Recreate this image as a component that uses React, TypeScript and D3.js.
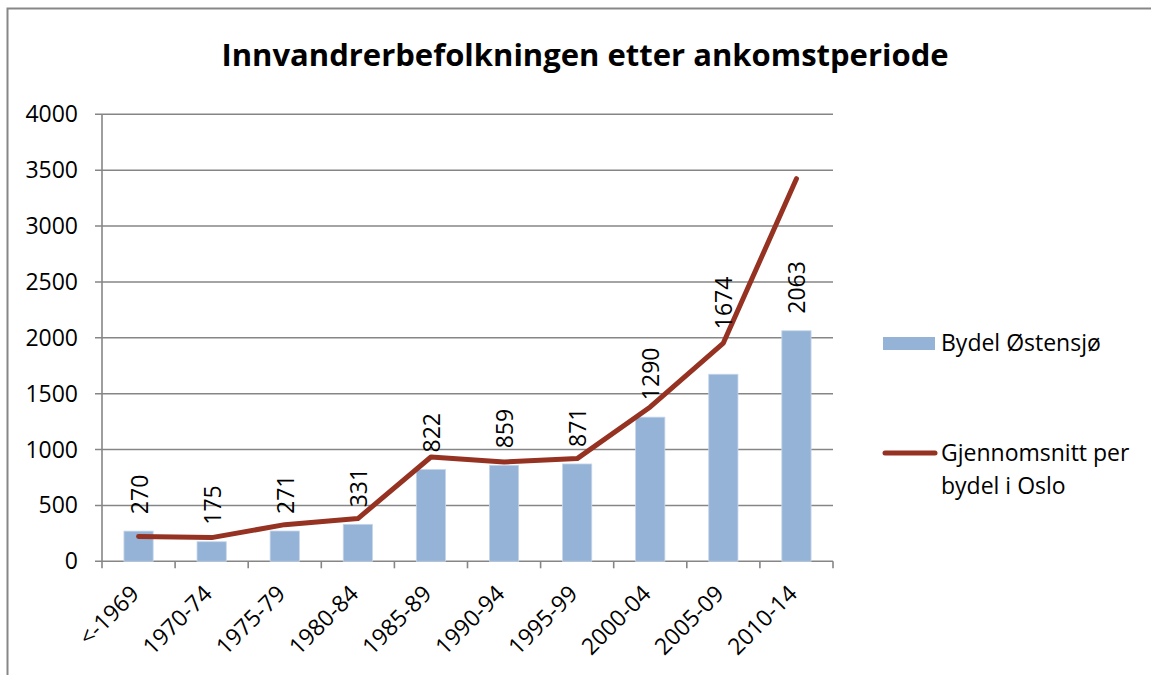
import React, { useEffect, useRef } from "react";
import * as d3 from "d3";

const categories = ["<-1969", "1970-74", "1975-79", "1980-84", "1985-89", "1990-94", "1995-99", "2000-04", "2005-09", "2010-14"];
const ostensjo = [270, 175, 271, 331, 822, 859, 871, 1290, 1674, 2063];
const osloAverage = [222, 212, 328, 382, 933, 889, 919, 1381, 1953, 3424];
const yTicks = [0, 500, 1000, 1500, 2000, 2500, 3000, 3500, 4000];
const title = "Innvandrerbefolkningen etter ankomstperiode";
const seriesNames = ["Bydel Østensjø", "Gjennomsnitt per", "bydel i Oslo"];

const W = 1151, H = 675;
const FONT = "'Open Sans', Lato, sans-serif";
const FS = 23;
// extra upward shift (px) applied to data labels that were moved clear of the line
const labelLift = [0, 0, 0, 0, 0, 0, 0, 0, 28, 0];

export default function App() {
  const ref = useRef<SVGSVGElement>(null);
  useEffect(() => {
    document.body.style.margin = "0";
    const svg = d3.select(ref.current);
    svg.selectAll("*").remove();

    const x = d3.scaleBand<string>().domain(categories).range([102, 833]).paddingInner(0.6).paddingOuter(0.3);
    const y = d3.scaleLinear().domain([0, 4000]).range([561.3, 114.3]);
    const step = x.step();

    svg.append("rect").attr("x", 0).attr("y", 0).attr("width", W).attr("height", H).attr("fill", "#fff");
    svg.append("rect").attr("x", 7.5).attr("y", 8.5).attr("width", W + 20).attr("height", H + 20)
      .attr("fill", "none").attr("stroke", "#878787").attr("stroke-width", 2);

    svg.append("text").attr("x", 585).attr("y", 66).attr("text-anchor", "middle")
      .attr("font-family", FONT).attr("font-weight", "bold").attr("font-size", 31).attr("fill", "#000").text(title);

    const g = svg.append("g");
    g.selectAll("line.grid").data(yTicks).join("line")
      .attr("x1", 95).attr("x2", 833).attr("y1", (d) => y(d)).attr("y2", (d) => y(d))
      .attr("stroke", "#868686").attr("stroke-width", 1.6);
    g.append("line").attr("x1", 102).attr("x2", 102).attr("y1", y(4000)).attr("y2", y(0))
      .attr("stroke", "#868686").attr("stroke-width", 1.6);
    const bounds = d3.range(categories.length + 1).map((i) => 102 + i * step);
    g.selectAll("line.xt").data(bounds).join("line")
      .attr("x1", (d) => d).attr("x2", (d) => d).attr("y1", y(0)).attr("y2", y(0) + 7)
      .attr("stroke", "#868686").attr("stroke-width", 1.6);

    g.selectAll("text.yl").data(yTicks).join("text")
      .attr("x", 78).attr("y", (d) => y(d) + 8).attr("text-anchor", "end")
      .attr("font-family", FONT).attr("font-size", FS).attr("fill", "#000").text((d) => d);

    g.selectAll("text.xl").data(categories).join("text")
      .attr("transform", (d) => `translate(${(x(d) as number) + x.bandwidth() / 2 + 2},${y(0) + 34}) rotate(-45)`)
      .attr("text-anchor", "end")
      .attr("font-family", FONT).attr("font-size", FS).attr("fill", "#000").text((d) => d);

    g.selectAll("rect.bar").data(ostensjo).join("rect")
      .attr("x", (_, i) => x(categories[i]) as number).attr("width", x.bandwidth())
      .attr("y", (d) => y(d)).attr("height", (d) => y(0) - y(d))
      .attr("fill", "#95B3D7").attr("stroke", "#c6d6ea").attr("stroke-width", 0.8);

    const line = d3.line<number>().x((_, i) => (x(categories[i]) as number) + x.bandwidth() / 2).y((d) => y(d));
    g.append("path").attr("d", line(osloAverage)).attr("fill", "none")
      .attr("stroke", "#953222").attr("stroke-width", 5).attr("stroke-linejoin", "round").attr("stroke-linecap", "round");

    g.selectAll("text.dl").data(ostensjo).join("text")
      .attr("transform", (d, i) => `translate(${(x(categories[i]) as number) + x.bandwidth() / 2 + 9},${y(d) - 17 - labelLift[i]}) rotate(-90)`)
      .attr("text-anchor", "start")
      .attr("font-family", FONT).attr("font-size", FS).attr("fill", "#000").text((d) => d);

    const lg = svg.append("g");
    lg.append("rect").attr("x", 883).attr("y", 337).attr("width", 52).attr("height", 13).attr("fill", "#95B3D7");
    lg.append("text").attr("x", 941).attr("y", 351).attr("font-family", FONT).attr("font-size", FS).text(seriesNames[0]);
    lg.append("line").attr("x1", 885).attr("x2", 935).attr("y1", 453).attr("y2", 453)
      .attr("stroke", "#953222").attr("stroke-width", 5).attr("stroke-linecap", "round");
    lg.append("text").attr("x", 941).attr("y", 461).attr("font-family", FONT).attr("font-size", FS).text(seriesNames[1]);
    lg.append("text").attr("x", 941).attr("y", 494).attr("font-family", FONT).attr("font-size", FS).text(seriesNames[2]);
  }, []);
  return <svg ref={ref} width={W} height={H} style={{ display: "block" }} />;
}
